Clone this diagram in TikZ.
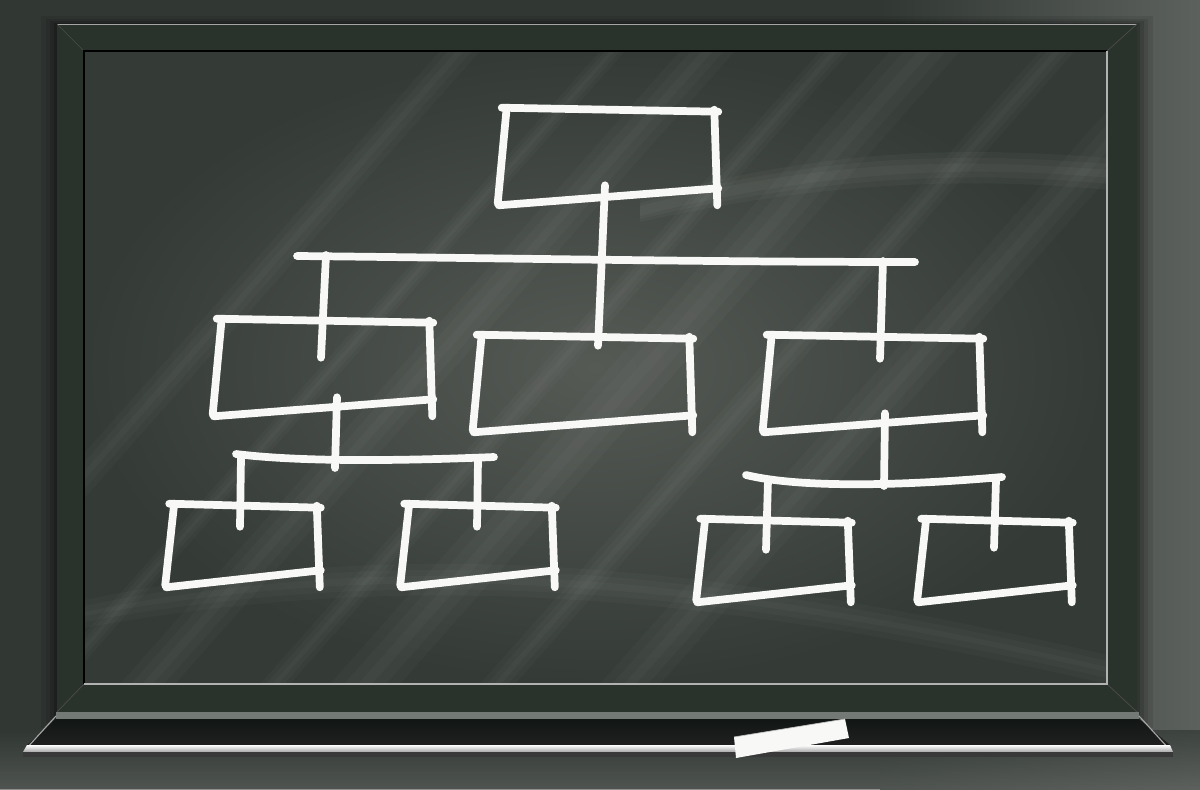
\documentclass[tikz,border=0pt]{standalone}
\usetikzlibrary{positioning}

\definecolor{wall}{HTML}{313733}
\definecolor{wallhi}{HTML}{5C615D}
\definecolor{frame}{HTML}{2A322C}
\definecolor{boarddark}{HTML}{343A36}
\definecolor{boardmid}{HTML}{555A55}
\definecolor{chalkwhite}{HTML}{F8F8F6}
\definecolor{traydark}{HTML}{111614}
\definecolor{traytop}{HTML}{737974}

% one hand drawn chalk box round an (invisible) node
\newcommand{\chalkbox}[1]{%
  \draw[chalk] ([shift={(-3,-2)}]#1.north west) -- ([shift={(3,2)}]#1.north east);
  \draw[chalk] ([shift={(-1,0)}]#1.north east) -- ([shift={(2,9)}]#1.south east);
  \draw[chalk] ([shift={(3,-8)}]#1.south east) -- ([shift={(-6,9)}]#1.south west);
  \draw[chalk] ([shift={(2,-2)}]#1.north west) -- ([shift={(-7,7)}]#1.south west);
}

\begin{document}
\begin{tikzpicture}[x=0.025cm,y=-0.025cm,
    chalk/.style={draw=chalkwhite,line width=5.5pt,line cap=round,line join=round},
    bigbox/.style={rectangle,inner sep=0pt,minimum width=5.25cm,minimum height=2.15cm},
    leafbox/.style={rectangle,inner sep=0pt,minimum width=3.625cm,minimum height=1.8cm}]

  \useasboundingbox (0,0) rectangle (1200,789);

  % wall
  \fill[wall] (0,0) rectangle (1200,789);
  \shade[left color=wall,right color=wallhi] (880,0) rectangle (1200,789);
  \shade[top color=wall,bottom color=wallhi,opacity=0.7] (0,730) rectangle (1200,789);
  \foreach \d/\o in {16/0.08,11/0.10,7/0.12,3/0.18}
    \fill[black,opacity=\o] (57-\d,24-\d/2) rectangle (1137+\d,712+\d);

  % frame
  \fill[frame] (57,24) rectangle (1137,712);
  \draw[gray!70,line width=0.6pt] (57,24.5) -- (1137,24.5);
  \draw[black!70,line width=0.5pt] (57,24) -- (84,51) (1137,24) -- (1107,51)
                                   (57,712) -- (84,684) (1137,712) -- (1107,684);

  % board
  \fill[boarddark] (84,51) rectangle (1107,684);
  \shade[inner color=boardmid,outer color=boarddark] (84,51) rectangle (1107,684);
  \begin{scope}
    \clip (84,51) rectangle (1107,684);
    \foreach \a/\w in {-120/40,40/25,120/55,260/30,330/70,480/35,600/60}
      \foreach \k in {0,0.2,0.4}
        \fill[white,opacity=0.025] (\a+\k*\w,684) -- (\a+\w-\k*\w,684)
          -- (\a+\w-\k*\w+560,51) -- (\a+\k*\w+560,51) -- cycle;
    \foreach \k in {0,6,12}
      \fill[white,opacity=0.03] (640,200+\k/2) .. controls (850,140+\k) and (1000,150+\k) .. (1110,158+\k)
         -- (1110,190-\k) .. controls (1000,180-\k) and (850,175-\k) .. (640,222-\k/2) -- cycle;
    \foreach \k in {0,6,12}
      \fill[white,opacity=0.025] (84,600+\k) .. controls (400,535+\k) and (700,560+\k) .. (1107,655+\k)
         -- (1107,684-\k) .. controls (700,590-\k) and (400,570-\k) .. (84,628-\k) -- cycle;
  \end{scope}
  \draw[black,line width=1pt] (84,684) -- (84,51) -- (1107,51);
  \draw[gray!60,line width=0.8pt] (84,684) -- (1107,684) -- (1107,51);

  % chalk tray
  \fill[traytop] (56,712) rectangle (1139,719);
  \shade[top color=traydark,bottom color=black!75!gray] (56,719) -- (1139,719)
    -- (1170,745) -- (27,745) -- cycle;
  \draw[gray!70,line width=0.8pt] (56,716) -- (25,750) (1139,716) -- (1170,750);
  \shade[top color=white,bottom color=gray!70] (27,745) -- (1170,745)
    -- (1173,752) -- (23,752) -- cycle;
  \fill[black!55!gray] (23,752) rectangle (1173,757);

  % piece of chalk
  \fill[chalkwhite] (734,737) -- (845,719) -- (849,738) -- (736,758) -- cycle;
  \draw[gray!50,line width=0.5pt] (734,737) -- (845,719);

  % boxes
  \node[bigbox] (root) at (610,153) {};
  \node[bigbox] (midA) at (325,364) {};
  \node[bigbox] (midB) at (585,380) {};
  \node[bigbox] (midC) at (875,380) {};
  \node[leafbox] (leafA) at (245,542) {};
  \node[leafbox] (leafB) at (480,542) {};
  \node[leafbox] (leafC) at (776,557) {};
  \node[leafbox] (leafD) at (997,557) {};

  \chalkbox{root}
  \chalkbox{midA}
  \chalkbox{midB}
  \chalkbox{midC}
  \chalkbox{leafA}
  \chalkbox{leafB}
  \chalkbox{leafC}
  \chalkbox{leafD}

  % first level
  \coordinate (bus1-w) at (297,256);
  \coordinate (bus1-e) at (915,262);
  \coordinate (bus1-l) at (326,255);
  \coordinate (bus1-r) at (883,261);
  \draw[chalk] ([shift={(-5,-11)}]root.south) -- ([shift={(13,9)}]midB.north);
  \draw[chalk] (bus1-w) .. controls (500,258) and (700,262) .. (bus1-e);
  \draw[chalk] (bus1-l) -- ([shift={(-4,37)}]midA.north);
  \draw[chalk] (bus1-r) -- ([shift={(5,22)}]midC.north);

  % left branch
  \coordinate (bus2-c) at (335,468);
  \coordinate (bus2-w) at (236,454);
  \coordinate (bus2-e) at (494,457);
  \coordinate (bus2-l) at (241,457);
  \coordinate (bus2-r) at (478,459);
  \draw[chalk] ([shift={(12,-10)}]midA.south) -- (bus2-c);
  \draw[chalk] (bus2-w) .. controls (300,462) and (400,461) .. (bus2-e);
  \draw[chalk] (bus2-l) -- ([shift={(-5,21)}]leafA.north);
  \draw[chalk] (bus2-r) -- ([shift={(-3,21)}]leafB.north);

  % right branch
  \coordinate (bus3-c) at (884,486);
  \coordinate (bus3-w) at (746,475);
  \coordinate (bus3-e) at (1002,477);
  \coordinate (bus3-l) at (768,480);
  \coordinate (bus3-r) at (996,480);
  \draw[chalk] ([shift={(10,-10)}]midC.south) -- (bus3-c);
  \draw[chalk] (bus3-w) .. controls (800,488) and (900,486) .. (bus3-e);
  \draw[chalk] (bus3-l) -- ([shift={(-10,29)}]leafC.north);
  \draw[chalk] (bus3-r) -- ([shift={(-3,27)}]leafD.north);

\end{tikzpicture}
\end{document}
